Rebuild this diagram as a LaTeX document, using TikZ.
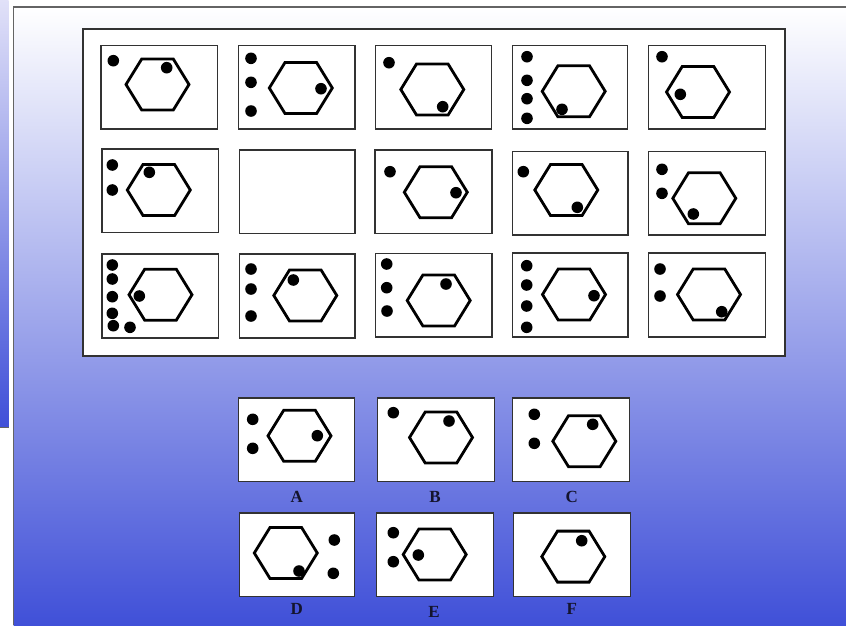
\documentclass[tikz,border=0pt]{standalone}
\usepackage{fontspec}
\setmainfont{Liberation Serif}
\definecolor{bgmid}{RGB}{195,198,240}
\definecolor{bgbot}{RGB}{64,80,216}
\definecolor{striptop}{RGB}{225,225,248}
\definecolor{framegray}{RGB}{100,100,100}
\definecolor{cellgray}{RGB}{50,50,50}
\definecolor{labelink}{RGB}{20,20,45}
\tikzset{
  hexline/.style={line width=2.8pt, line join=miter, draw=black},
  cellline/.style={line width=1.1pt, draw=cellgray, fill=white},
  framel/.style={line width=1.2pt, draw=framegray},
  lab/.style={font=\bfseries\fontsize{17}{17}\selectfont, text=labelink, inner sep=0pt}
}
\newcommand\hexat[2]{\draw[hexline,shift={(#1,#2)}] (-31.5,0) -- (-15.8,-25.5) -- (15.8,-25.5) -- (31.5,0) -- (15.8,25.5) -- (-15.8,25.5) -- cycle;}
\newcommand\dotat[2]{\fill (#1,#2) circle[radius=5.8pt];}
\newcommand\cellbox[4]{\draw[cellline] (#1,#2) rectangle (#3,#4);}
\begin{document}
\begin{tikzpicture}[x=1pt,y=-1pt]
\useasboundingbox (0,0) rectangle (846,625);
\fill[white] (0,0) rectangle (846,625);
% left strip
\shade[top color=striptop, bottom color=bgbot] (0,0) rectangle (8.5,427);
\draw[line width=1pt, draw=framegray] (0,427) -- (8.5,427);
% main background
\shade[top color=white, middle color=bgmid, bottom color=bgbot] (13.5,7) rectangle (846,625);
\draw[framel] (13.5,625) -- (13.5,7) -- (846,7);
% inner panel
\draw[line width=1.1pt, draw=cellgray, fill=white] (83,29) rectangle (785,356);

% ---- Row 1
\cellbox{101}{45.5}{217.5}{129}
\dotat{113.3}{60.7} \hexat{157.5}{84.5} \dotat{166.7}{67.7}
\cellbox{238.5}{45.5}{355}{129}
\dotat{251}{58.3} \dotat{251}{82.3} \dotat{251}{111} \hexat{300.8}{88} \dotat{321}{88.7}
\cellbox{375.5}{45.5}{491.5}{129}
\dotat{389}{62.7} \hexat{432.3}{89.5} \dotat{442.7}{106.7}
\cellbox{512.5}{45.5}{627.5}{129}
\dotat{527}{56.7} \dotat{527}{80.3} \dotat{527}{98.7} \dotat{527}{118.3} \hexat{573.7}{91.3} \dotat{562}{109.3}
\cellbox{648.5}{45.5}{765.5}{129}
\dotat{662}{56.7} \hexat{698}{92} \dotat{680.3}{94.3}

% ---- Row 2
\cellbox{102}{149}{218.5}{232.5}
\dotat{112.3}{165} \dotat{112.3}{190} \hexat{158.8}{190} \dotat{149.3}{172.3}
\cellbox{239.5}{150}{355}{233.5}
\cellbox{375}{150}{492}{233.5}
\dotat{390}{171.7} \hexat{435.8}{192.2} \dotat{456}{192.7}
\cellbox{512.5}{151.5}{628}{235}
\dotat{523.3}{171.7} \hexat{566.3}{190} \dotat{577.3}{207.3}
\cellbox{648.5}{151.5}{765.5}{235}
\dotat{662}{169.3} \dotat{662}{193.3} \hexat{704.3}{198.3} \dotat{693.3}{214}

% ---- Row 3
\cellbox{102}{254}{218.5}{338}
\dotat{112.3}{265} \dotat{112.3}{279} \dotat{112.3}{296.7} \dotat{112.3}{313.3} \dotat{113.3}{325.7} \dotat{130}{327.3}
\hexat{160.5}{294.7} \dotat{139.3}{296}
\cellbox{239.5}{254}{355}{338}
\dotat{251}{269} \dotat{251}{289} \dotat{251}{316} \hexat{305.3}{295.5} \dotat{293.3}{280}
\cellbox{375.5}{253.5}{492}{337}
\dotat{386.7}{264} \dotat{386.7}{287.7} \dotat{387}{311} \hexat{438.7}{300.5} \dotat{446}{284}
\cellbox{512.5}{253}{628}{337}
\dotat{526.7}{265.7} \dotat{526.7}{285} \dotat{526.7}{306} \dotat{526.7}{327.3} \hexat{574}{294.5} \dotat{594}{295.7}
\cellbox{648.5}{253}{765.5}{337}
\dotat{660}{269} \dotat{660}{296} \hexat{709}{294.5} \dotat{721.7}{311.7}

% ---- Answers
\cellbox{238.5}{398}{354.5}{481.5}
\dotat{252.7}{419.3} \dotat{252.7}{448.3} \hexat{299.5}{435.8} \dotat{317.3}{435.7}
\cellbox{377.5}{398}{494.5}{481.5}
\dotat{393.3}{412.7} \hexat{441}{437.5} \dotat{449}{421}
\cellbox{512.5}{398}{629.5}{481.5}
\dotat{534.3}{414.3} \dotat{534.3}{443.3} \hexat{584.3}{441.2} \dotat{592.7}{424.3}
\cellbox{239.5}{513}{354.5}{596.5}
\hexat{285.8}{553} \dotat{299}{571} \dotat{334.3}{540} \dotat{333.3}{573.3}
\cellbox{376.5}{513}{493.5}{596.5}
\dotat{393.3}{532.7} \dotat{393.3}{561.7} \hexat{434.7}{554.5} \dotat{418.3}{555}
\cellbox{513.5}{513}{630.5}{596.5}
\hexat{573.3}{556.6} \dotat{581.7}{540.7}

\node[lab] (la) at (296.7,497.3) {A};
\node[lab] (lb) at (435,497.3) {B};
\node[lab] (lc) at (571.7,497.3) {C};
\node[lab] (ld) at (296.7,609.3) {D};
\node[lab] (le) at (434,612.3) {E};
\node[lab] (lf) at (571.7,609.3) {F};
\end{tikzpicture}
\end{document}
